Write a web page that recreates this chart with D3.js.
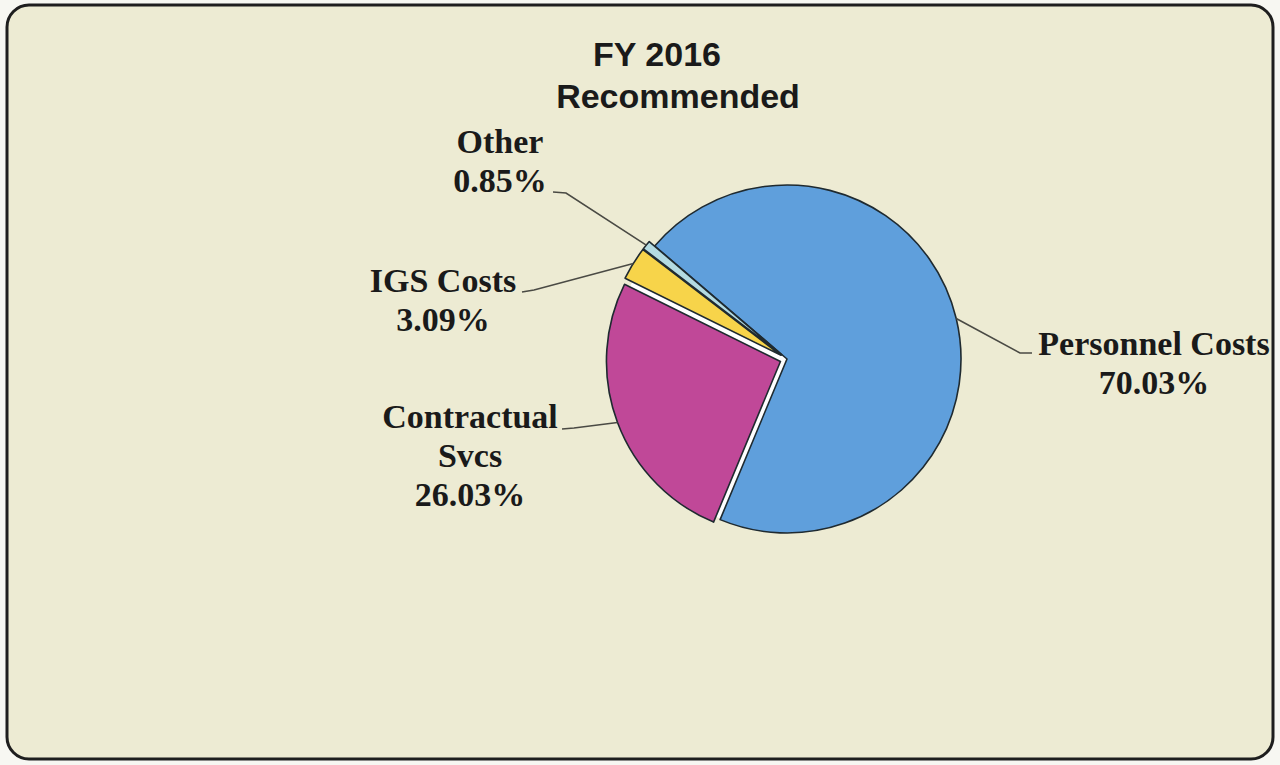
<!DOCTYPE html>
<html>
<head>
<meta charset="utf-8">
<script src="https://cdn.jsdelivr.net/npm/d3@7"></script>
<style>
  html, body { margin: 0; padding: 0; background: #f7f7f2; }
  svg { display: block; }
</style>
</head>
<body>
<svg id="chart" width="1280" height="765"></svg>
<script>
// data
const categories = ["Personnel Costs", "Contractual Svcs", "IGS Costs", "Other"];
const labelLines = [["Personnel Costs"], ["Contractual", "Svcs"], ["IGS Costs"], ["Other"]];
const values = [70.03, 26.03, 3.09, 0.85];
const colors = ["#5f9fdc", "#c04898", "#f7d44a", "#b4dbe2"];
const titleLines = ["FY 2016", "Recommended"];

// label layout (center x, first baseline, leader anchor, elbow)
const labelPos = [
  { x: 1154, y: 355, ax: 1032, ay: 353, ex: 1020, ey: 353 },
  { x: 470,  y: 428, ax: 562,  ay: 429, ex: 574,  ey: 428 },
  { x: 443,  y: 292, ax: 522,  ay: 292, ex: 534,  ey: 290 },
  { x: 500,  y: 153, ax: 553,  ay: 192, ex: 566,  ey: 193 }
];
const explode = [0, 7, 7, 7];

const svg = d3.select("#chart");
const W = 1280, H = 765;

// frame
svg.append("rect")
  .attr("x", 7).attr("y", 5)
  .attr("width", W - 14).attr("height", H - 11)
  .attr("rx", 22).attr("ry", 22)
  .attr("fill", "#edebd3")
  .attr("stroke", "#1e1e1e")
  .attr("stroke-width", 3);

// title
svg.append("text")
  .attr("font-family", "Liberation Sans, Arial, sans-serif")
  .attr("font-weight", "bold")
  .attr("font-size", 34)
  .attr("fill", "#1a1a1a")
  .attr("text-anchor", "middle")
  .selectAll("tspan")
  .data(titleLines)
  .enter().append("tspan")
  .attr("x", (d, i) => i === 0 ? 657 : 678)
  .attr("y", (d, i) => 66 + i * 42)
  .text(d => d);

const cx = 787, cy = 359, r = 174;
const startAngle = -49.5 * Math.PI / 180;

const pie = d3.pie().sort(null)
  .startAngle(startAngle)
  .endAngle(startAngle + 2 * Math.PI);
const arcs = pie(values);

const arc = d3.arc().innerRadius(0).outerRadius(r);
const rim = d3.arc().innerRadius(r).outerRadius(r);

const g = svg.append("g").attr("transform", `translate(${cx},${cy})`);

// white underlay shows in the gaps of exploded slices
g.append("circle").attr("r", r - 1).attr("fill", "#ffffff");

function offset(d, i) {
  const a = (d.startAngle + d.endAngle) / 2;
  return [Math.sin(a) * explode[i], -Math.cos(a) * explode[i]];
}

g.selectAll("path.slice")
  .data(arcs)
  .enter().append("path")
  .attr("class", "slice")
  .attr("d", arc)
  .attr("transform", (d, i) => `translate(${offset(d, i)})`)
  .attr("fill", (d, i) => colors[i])
  .attr("stroke", "#1f2a30")
  .attr("stroke-width", 1.6)
  .attr("stroke-linejoin", "round");

// leader lines
svg.append("g").selectAll("polyline")
  .data(arcs)
  .enter().append("polyline")
  .attr("fill", "none")
  .attr("stroke", "#4a4a44")
  .attr("stroke-width", 1.6)
  .attr("points", (d, i) => {
    const p = rim.centroid(d);
    const o = offset(d, i);
    const lp = labelPos[i];
    return [[lp.ax, lp.ay], [lp.ex, lp.ey], [cx + p[0] + o[0], cy + p[1] + o[1]]]
      .map(q => q.join(",")).join(" ");
  });

// labels
const labels = svg.append("g")
  .attr("font-family", "Liberation Serif, Times New Roman, serif")
  .attr("font-weight", "bold")
  .attr("font-size", 34)
  .attr("fill", "#1a1a1a")
  .attr("text-anchor", "middle");

arcs.forEach((d, i) => {
  const lines = labelLines[i].concat([d3.format(".2f")(values[i]) + "%"]);
  const lp = labelPos[i];
  labels.append("text")
    .attr("aria-label", categories[i])
    .selectAll("tspan")
    .data(lines)
    .enter().append("tspan")
    .attr("x", lp.x)
    .attr("y", (t, j) => lp.y + j * 39)
    .text(t => t);
});
</script>
</body>
</html>
